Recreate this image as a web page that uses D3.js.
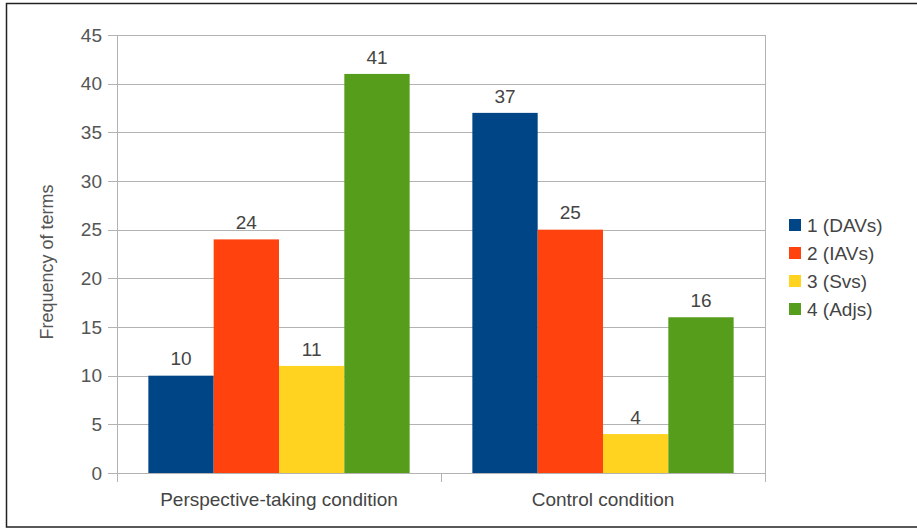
<!DOCTYPE html>
<html>
<head>
<meta charset="utf-8">
<script src="https://cdn.jsdelivr.net/npm/d3@7"></script>
<style>
  body { margin: 0; background: #fff; }
  svg { display: block; font-family: "Liberation Sans", Arial, sans-serif; }
</style>
</head>
<body>
<svg id="chart" width="917" height="528"></svg>
<script>
const conditions = ["Perspective-taking condition", "Control condition"];
const seriesNames = ["1 (DAVs)", "2 (IAVs)", "3 (Svs)", "4 (Adjs)"];
const seriesColors = ["#004586", "#ff420e", "#ffd320", "#579d1c"];
const perspectiveValues = [10, 24, 11, 41];
const controlValues = [37, 25, 4, 16];
const yTicks = [0, 5, 10, 15, 20, 25, 30, 35, 40, 45];

const rows = [perspectiveValues, controlValues];

const svg = d3.select("#chart");
const margin = { left: 117, right: 152, top: 35, bottom: 55 };
const W = 917, H = 528;

// outer frame
svg.append("rect")
  .attr("x", 6.5).attr("y", 3.5)
  .attr("width", 920).attr("height", 523.5)
  .attr("fill", "none").attr("stroke", "#222").attr("stroke-width", 1.5);

const x = d3.scaleBand()
  .domain(conditions)
  .range([margin.left, W - margin.right])
  .paddingInner(0).paddingOuter(0);

const xs = d3.scaleBand()
  .domain(seriesNames)
  .range([0, x.bandwidth()])
  .paddingInner(0)
  .paddingOuter(0.48);

const y = d3.scaleLinear().domain([0, 45]).range([H - margin.bottom, margin.top]);

// gridlines
svg.append("g").selectAll("line").data(yTicks).join("line")
  .attr("x1", margin.left - 9).attr("x2", W - margin.right)
  .attr("y1", d => Math.round(y(d)) + 0.5).attr("y2", d => Math.round(y(d)) + 0.5)
  .attr("stroke", "#b3b3b3").attr("stroke-width", 1);

// y axis line
svg.append("line")
  .attr("x1", margin.left + 0.5).attr("x2", margin.left + 0.5)
  .attr("y1", y(45)).attr("y2", y(0) + 9)
  .attr("stroke", "#b3b3b3");
// right edge / category separators
[margin.left + x.bandwidth(), W - margin.right].forEach(px => {
  svg.append("line")
    .attr("x1", Math.round(px) + 0.5).attr("x2", Math.round(px) + 0.5)
    .attr("y1", px === W - margin.right ? y(45) : y(0)).attr("y2", y(0) + 9)
    .attr("stroke", "#b3b3b3");
});

// y tick labels
svg.append("g").selectAll("text").data(yTicks).join("text")
  .attr("x", margin.left - 15).attr("y", d => y(d))
  .attr("dy", "0.35em").attr("text-anchor", "end")
  .attr("font-size", 19).attr("fill", "#555")
  .text(d => d);

// bars
const groups = svg.append("g").selectAll("g").data(rows).join("g")
  .attr("transform", (d, i) => `translate(${x(conditions[i])},0)`);

groups.selectAll("rect").data(d => d).join("rect")
  .attr("x", (d, i) => xs(seriesNames[i]))
  .attr("width", xs.bandwidth())
  .attr("y", d => y(d))
  .attr("height", d => y(0) - y(d))
  .attr("fill", (d, i) => seriesColors[i]);

groups.selectAll("text").data(d => d).join("text")
  .attr("x", (d, i) => xs(seriesNames[i]) + xs.bandwidth() / 2)
  .attr("y", d => y(d) - 17)
  .attr("dy", "0.35em")
  .attr("text-anchor", "middle")
  .attr("font-size", 19).attr("fill", "#444")
  .text(d => d);

// x labels
svg.append("g").selectAll("text").data(conditions).join("text")
  .attr("x", d => x(d) + x.bandwidth() / 2)
  .attr("y", y(0) + 26)
  .attr("dy", "0.35em")
  .attr("text-anchor", "middle")
  .attr("font-size", 19).attr("fill", "#444")
  .text(d => d);

// y title
svg.append("text")
  .attr("transform", `translate(47,${(y(0) + y(45)) / 2 + 8}) rotate(-90)`)
  .attr("dy", "0.35em")
  .attr("text-anchor", "middle")
  .attr("font-size", 18).attr("fill", "#555")
  .text("Frequency of terms");

// legend
const legend = svg.append("g").attr("transform", "translate(789,225)");
const li = legend.selectAll("g").data(seriesNames).join("g")
  .attr("transform", (d, i) => `translate(0,${i * 28})`);
li.append("rect")
  .attr("x", 0).attr("y", -6).attr("width", 12).attr("height", 12)
  .attr("fill", (d, i) => seriesColors[i]);
li.append("text")
  .attr("x", 18).attr("y", 0).attr("dy", "0.35em")
  .attr("font-size", 19).attr("fill", "#444")
  .text(d => d);
</script>
</body>
</html>
